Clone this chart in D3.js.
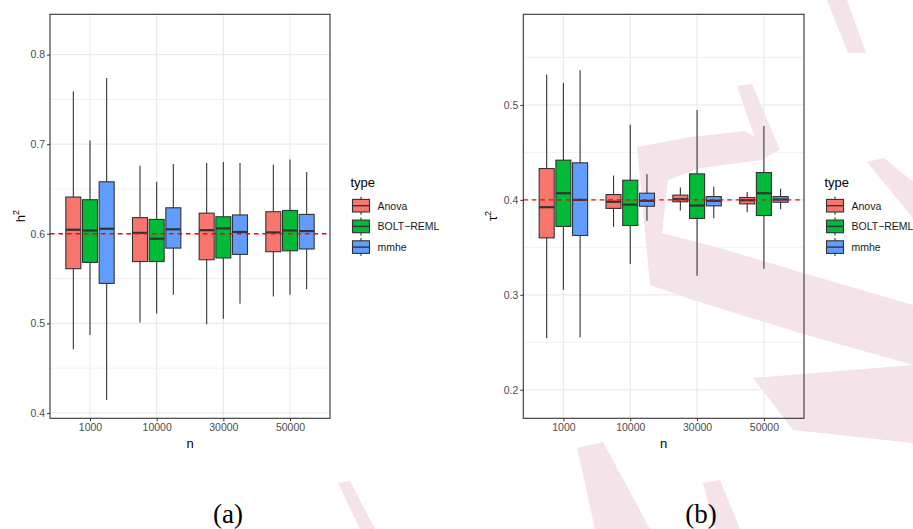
<!DOCTYPE html>
<meta charset="utf-8">
<html>
<head>
<style>
  body { margin: 0; background: #fff; }
  svg { display: block; font-family: "Liberation Sans", Arial, sans-serif; }
  .tick text { fill: #4d4d4d; font-size: 10.5px; }
  .tick line { stroke: #333; }
</style>
<script src="https://d3js.org/d3.v7.min.js"></script>
</head>
<body>
<svg width="913" height="529"></svg>
<script>
// sample sizes and estimators
var nLevels = ["1000", "10000", "30000", "50000"];
var types = ["Anova", "BOLT\u2212REML", "mmhe"];
var typeColors = ["#F8766D", "#00BA38", "#619CFF"];

// (a) h^2 : [lower whisker, Q1, median, Q3, upper whisker] for each n
var h2Anova = [[0.471, 0.561, 0.6045, 0.641, 0.759], [0.501, 0.569, 0.601, 0.618, 0.676],
               [0.499, 0.571, 0.604, 0.623, 0.679], [0.530, 0.580, 0.6015, 0.6246, 0.677]];
var h2Bolt  = [[0.487, 0.568, 0.6037, 0.638, 0.704], [0.511, 0.569, 0.5944, 0.616, 0.658],
               [0.505, 0.573, 0.606, 0.619, 0.680], [0.532, 0.581, 0.6037, 0.626, 0.683]];
var h2Mmhe  = [[0.4144, 0.5446, 0.6056, 0.658, 0.774], [0.532, 0.584, 0.605, 0.629, 0.678],
               [0.522, 0.577, 0.602, 0.621, 0.679], [0.538, 0.583, 0.603, 0.6216, 0.669]];
var h2True = 0.6;
var h2Ticks = [0.4, 0.5, 0.6, 0.7, 0.8];
var h2Minor = [0.45, 0.55, 0.65, 0.75];

// (b) tau^2
var tauAnova = [[0.2544, 0.360, 0.3923, 0.433, 0.532], [0.3716, 0.391, 0.398, 0.4056, 0.4256],
                [0.3888, 0.398, 0.4007, 0.405, 0.413], [0.387, 0.3958, 0.3996, 0.4025, 0.4084]];
var tauBolt  = [[0.3053, 0.372, 0.407, 0.4418, 0.523], [0.3326, 0.373, 0.395, 0.4207, 0.479],
                [0.320, 0.3804, 0.394, 0.4274, 0.4947], [0.3274, 0.3835, 0.407, 0.4288, 0.4779]];
var tauMmhe  = [[0.255, 0.3625, 0.400, 0.439, 0.5365], [0.378, 0.3933, 0.399, 0.407, 0.427],
                [0.3807, 0.3937, 0.399, 0.4035, 0.4137], [0.390, 0.3975, 0.4004, 0.4035, 0.4116]];
var tauTrue = 0.4;
var tauTicks = [0.2, 0.3, 0.4, 0.5];
var tauMinor = [0.25, 0.35, 0.45, 0.55];

var svg = d3.select("svg");

// faint pink "S" watermark behind the figure (decoration only)
var watermark = [
  [[637,147],[690,137],[745,131],[778,150],[762,160],[700,168],[668,180],[662,233],
   [720,248],[800,272],[913,305],[913,365],[800,333],[693,300],[650,285]],
  [[737,86],[752,84],[780,150],[762,158]],
  [[867,162],[884,158],[913,182],[913,218]],
  [[753,378],[913,365],[913,443],[793,430]],
  [[827,0],[847,0],[866,53],[848,53]],
  [[577,448],[603,442],[650,529],[595,529]],
  [[703,483],[720,480],[740,529],[715,529]],
  [[338,483],[350,481],[375,529],[360,529]]
];
svg.append("g").selectAll("path")
   .data(watermark)
   .enter().append("path")
   .attr("d", function(d) { return d3.line()(d) + "Z"; })
   .attr("fill", "#f4e3e8");

function drawPanel(p) {
    var x = d3.scalePoint().domain(nLevels).range([p.x0, p.x1]).padding(0.6),
        y = d3.scaleLinear().domain(p.yDomain).range([418.3, 14.3]),
        dodge = d3.scaleBand().domain(types).range([-0.375 * x.step(), 0.375 * x.step()]),
        boxW = dodge.bandwidth() * 0.9;

    var g = svg.append("g");

    // grid
    g.selectAll(".minor").data(p.minor).enter().append("line")
     .attr("x1", p.x0).attr("x2", p.x1)
     .attr("y1", function(d) { return y(d); }).attr("y2", function(d) { return y(d); })
     .attr("stroke", "#ebebeb").attr("stroke-width", 0.7);
    g.selectAll(".major").data(p.ticks).enter().append("line")
     .attr("x1", p.x0).attr("x2", p.x1)
     .attr("y1", function(d) { return y(d); }).attr("y2", function(d) { return y(d); })
     .attr("stroke", "#ebebeb").attr("stroke-width", 1.2);
    g.selectAll(".vmajor").data(nLevels).enter().append("line")
     .attr("x1", function(d) { return x(d); }).attr("x2", function(d) { return x(d); })
     .attr("y1", 14.3).attr("y2", 418.3)
     .attr("stroke", "#ebebeb").attr("stroke-width", 1.2);

    // boxes
    p.series.forEach(function(s, k) {
        var rows = s.map(function(v, i) { return { n: nLevels[i], v: v }; });
        var cx = function(d) { return x(d.n) + dodge(types[k]) + dodge.bandwidth() / 2; };
        var bg = g.append("g");
        bg.selectAll(".wh").data(rows).enter().append("line")
          .attr("x1", cx).attr("x2", cx)
          .attr("y1", function(d) { return y(d.v[0]); })
          .attr("y2", function(d) { return y(d.v[4]); })
          .attr("stroke", "#333").attr("stroke-width", 1.1);
        bg.selectAll("rect").data(rows).enter().append("rect")
          .attr("x", function(d) { return cx(d) - boxW / 2; })
          .attr("width", boxW)
          .attr("y", function(d) { return y(d.v[3]); })
          .attr("height", function(d) { return y(d.v[1]) - y(d.v[3]); })
          .attr("fill", typeColors[k])
          .attr("stroke", "#333").attr("stroke-width", 1.1);
        bg.selectAll(".med").data(rows).enter().append("line")
          .attr("x1", function(d) { return cx(d) - boxW / 2; })
          .attr("x2", function(d) { return cx(d) + boxW / 2; })
          .attr("y1", function(d) { return y(d.v[2]); })
          .attr("y2", function(d) { return y(d.v[2]); })
          .attr("stroke", "#333").attr("stroke-width", 2.2);
    });

    // true value
    g.append("line")
     .attr("x1", p.x0).attr("x2", p.x1)
     .attr("y1", y(p.trueValue)).attr("y2", y(p.trueValue))
     .attr("stroke", "red").attr("stroke-width", 1.4)
     .attr("stroke-dasharray", "4.5,4");

    // border
    g.append("rect")
     .attr("x", p.x0).attr("y", 14.3)
     .attr("width", p.x1 - p.x0).attr("height", 404)
     .attr("fill", "none").attr("stroke", "#333").attr("stroke-width", 1.1);

    // axes
    g.append("g")
     .attr("transform", "translate(" + p.x0 + ",0)")
     .call(d3.axisLeft(y).tickValues(p.ticks).tickSize(3).tickPadding(2).tickFormat(d3.format(".1f")))
     .call(function(a) { a.select(".domain").remove(); });
    g.append("g")
     .attr("transform", "translate(0,418.3)")
     .call(d3.axisBottom(x).tickSize(3).tickPadding(2))
     .call(function(a) { a.select(".domain").remove(); });

    g.append("text")
     .attr("x", (p.x0 + p.x1) / 2).attr("y", 448)
     .attr("text-anchor", "middle").attr("font-size", "13px")
     .text("n");

    var yt = g.append("text")
     .attr("transform", "translate(" + p.yTitleX + ",216) rotate(-90)")
     .attr("text-anchor", "middle").attr("font-size", "13px");
    yt.append("tspan").text(p.yTitle);
    yt.append("tspan").attr("font-size", "9px").attr("dy", "-6").text("2");

    // legend
    var lg = g.append("g").attr("transform", "translate(" + (p.x1 + 20.5) + ",0)");
    lg.append("text").attr("x", 0).attr("y", 187).attr("font-size", "13px").text("type");
    types.forEach(function(t, k) {
        var cy = 205.7 + k * 20.7;
        lg.append("line").attr("x1", 10.5).attr("x2", 10.5)
          .attr("y1", cy - 9).attr("y2", cy + 9)
          .attr("stroke", "#333").attr("stroke-width", 1.1);
        lg.append("rect").attr("x", 2).attr("y", cy - 6.3)
          .attr("width", 17).attr("height", 12.6)
          .attr("fill", typeColors[k]).attr("stroke", "#333").attr("stroke-width", 1.1);
        lg.append("line").attr("x1", 2).attr("x2", 19)
          .attr("y1", cy).attr("y2", cy)
          .attr("stroke", "#333").attr("stroke-width", 1.4);
        lg.append("text").attr("x", 27).attr("y", cy + 3.8)
          .attr("font-size", "10.5px").attr("fill", "#1a1a1a").text(t);
    });

    svg.append("text")
       .attr("x", p.labelX).attr("y", 523)
       .attr("text-anchor", "middle")
       .attr("font-family", "'Liberation Serif', 'Times New Roman', serif")
       .attr("font-size", "27px")
       .text(p.label);
}

drawPanel({ x0: 50, x1: 330, yDomain: [0.394, 0.845], series: [h2Anova, h2Bolt, h2Mmhe],
            trueValue: h2True, ticks: h2Ticks, minor: h2Minor,
            yTitle: "h", yTitleX: 25, label: "(a)", labelX: 228 });
drawPanel({ x0: 523.3, x1: 804, yDomain: [0.170, 0.5954], series: [tauAnova, tauBolt, tauMmhe],
            trueValue: tauTrue, ticks: tauTicks, minor: tauMinor,
            yTitle: "\u03c4", yTitleX: 497, label: "(b)", labelX: 701 });
</script>
</body>
</html>
